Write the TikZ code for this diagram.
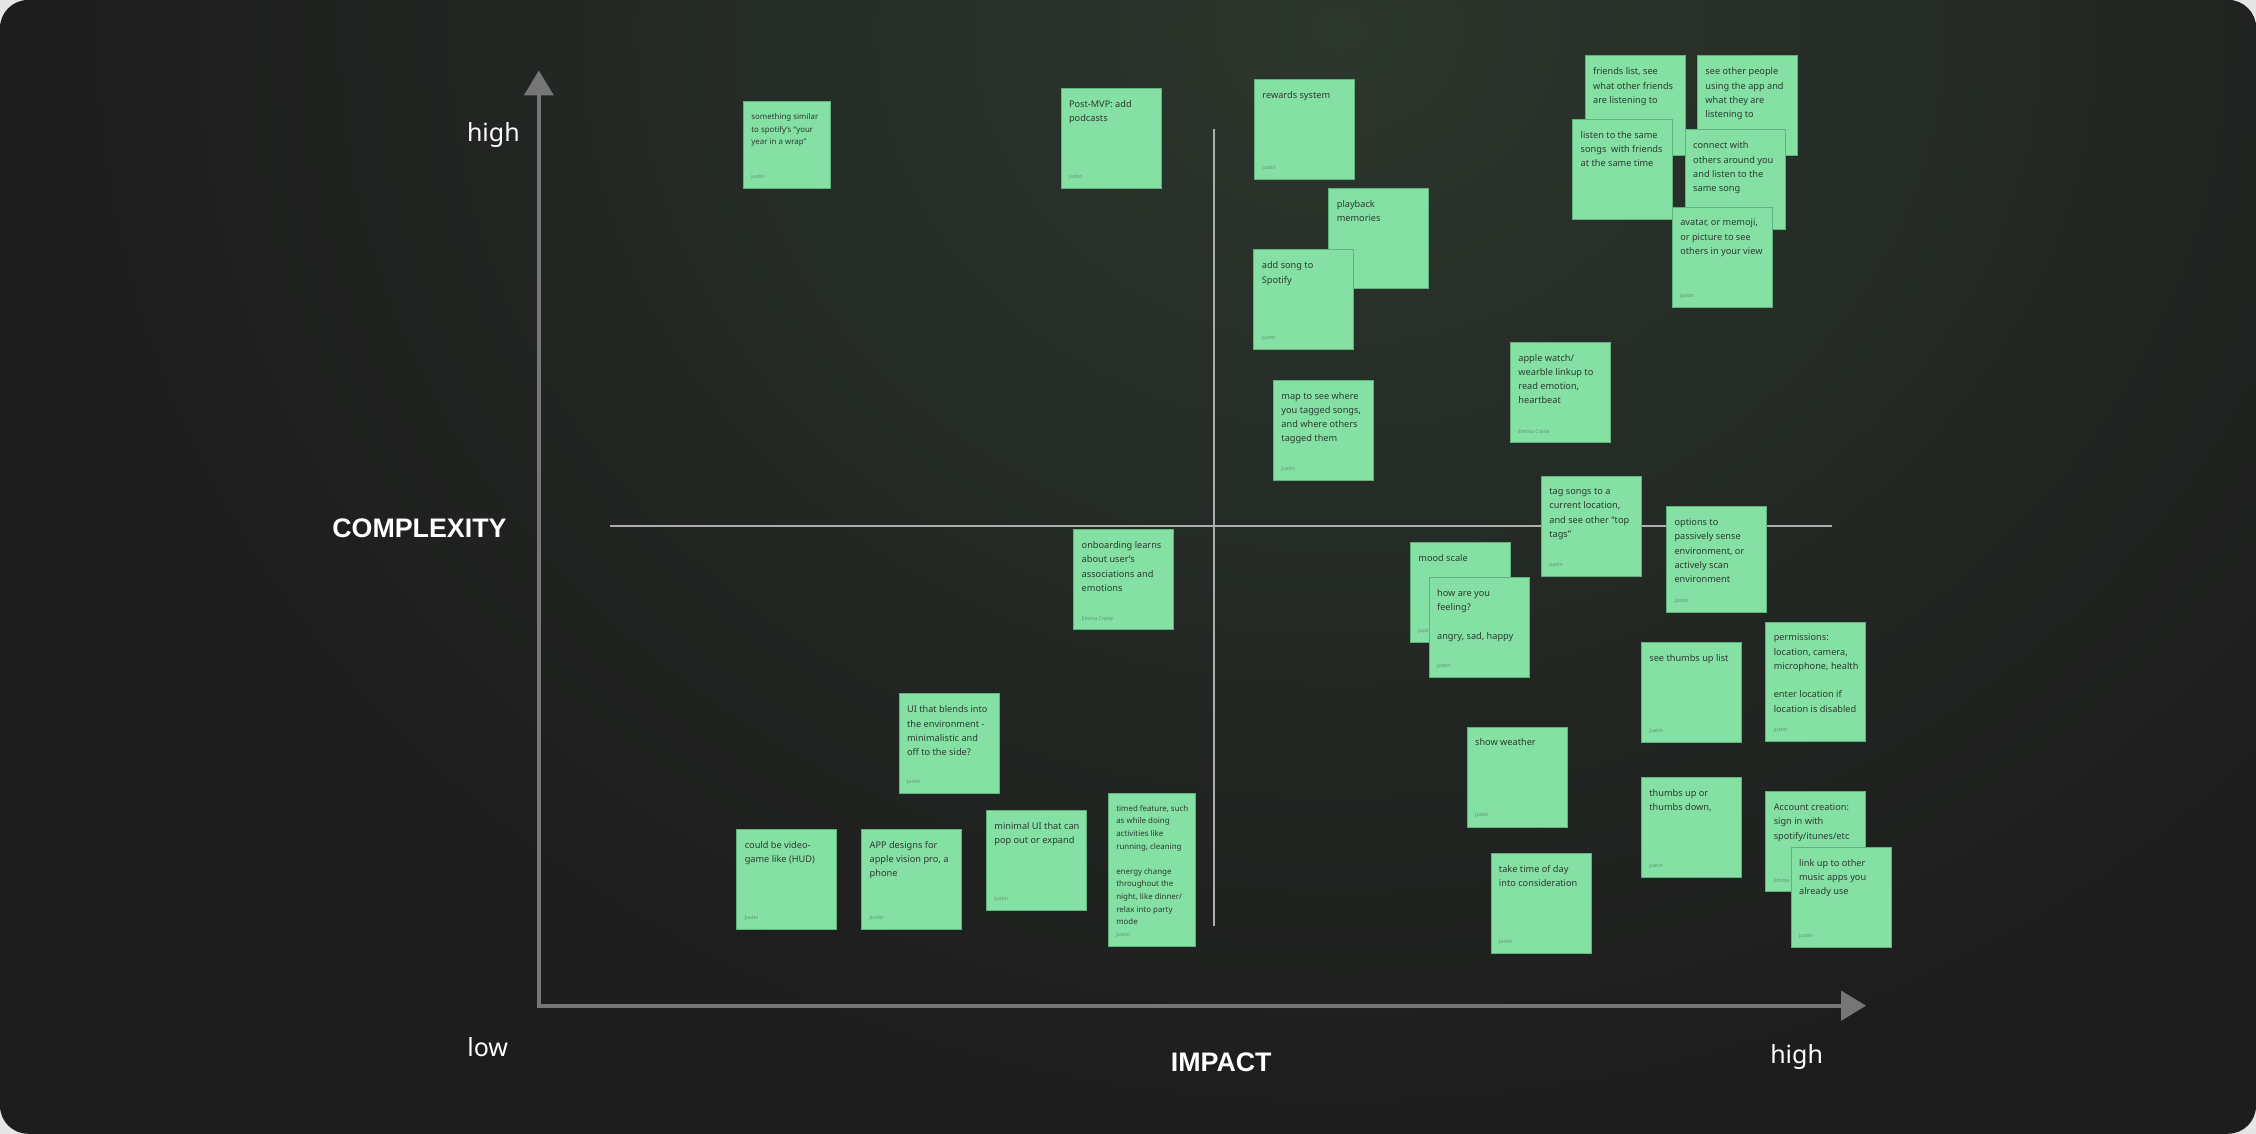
\documentclass[tikz,border=0pt]{standalone}
\usepackage{fontspec}
\setmainfont{Noto Sans}
\newfontfamily\titlefont{Liberation Sans}
\usetikzlibrary{arrows.meta, positioning}
\usepackage{xcolor}
\definecolor{stickygreen}{HTML}{85E0A3}
\definecolor{stickyedge}{HTML}{62B27F}
\definecolor{stickyink}{HTML}{2D3A31}
\definecolor{authorink}{HTML}{5E9470}
\definecolor{axisgray}{HTML}{767676}
\definecolor{quadgray}{HTML}{ADADAD}
\definecolor{bgdark}{HTML}{1D1D1D}
\definecolor{bggreen}{HTML}{2C372D}
\definecolor{framegray}{HTML}{E6E6E6}

% one display pixel of the board
\newcommand{\pxu}{0.7194pt}
% sticky note: [text style] name, x, y, width, height, text, author
\newcommand{\sticky}[8][notetext]{%
  \node[note, minimum width=#5*\pxu, minimum height=#6*\pxu] (#2) at (#3,#4) {};
  \node[#1] (#2-text) at ([xshift=4pt, yshift=-6pt]#2.north west) {#7};
  \node[author] (#2-author) at ([xshift=4pt, yshift=4.5pt]#2.south west) {#8};}

\begin{document}
\begin{tikzpicture}[x=0.7194pt, y=-0.7194pt,
  note/.style={rectangle, fill=stickygreen, draw=stickyedge, line width=0.4pt, inner sep=0pt, anchor=north west},
  notetext/.style={anchor=north west, inner sep=0pt, align=left, text=stickyink, font=\fontsize{4.6}{7.15}\selectfont},
  smalltext/.style={notetext, font=\fontsize{3.95}{6.3}\selectfont},
  author/.style={anchor=south west, inner sep=0pt, text=authorink, font=\fontsize{2.6}{3}\selectfont},
  axis/.style={draw=axisgray, line width=2.2pt, {Triangle[width=14.5pt, length=12.5pt]}-{Triangle[width=14.5pt, length=12.5pt]}},
  quadline/.style={draw=quadgray, line width=1pt},
  axislabel/.style={text=white, font=\fontsize{12.5}{15}\selectfont, inner sep=0pt},
  axistitle/.style={text=white, font=\titlefont\bfseries\fontsize{13.4}{15}\selectfont, inner sep=0pt}]

  % Board background
  \useasboundingbox (0,0) rectangle (1568,788);
  \fill[framegray] (0,0) rectangle (1568,788);
  \fill[bgdark, rounded corners=14pt] (0,0) rectangle (1568,788);
  \begin{scope}
    \clip[rounded corners=14pt] (0,0) rectangle (1568,788);
    \shade[inner color=bggreen, outer color=bgdark] (930,20) ellipse (880 and 760);
  \end{scope}

  % Axes
  \coordinate (ytip) at (374.5,49);
  \coordinate (origin) at (374.5,699);
  \coordinate (xtip) at (1297,699);
  \draw[axis] (ytip) -- (origin) -- (xtip);

  % Quadrant lines
  \coordinate (qtop) at (843.8,89.4);
  \coordinate (qbottom) at (843.8,643.4);
  \coordinate (qleft) at (424,365.5);
  \coordinate (qright) at (1273,365.5);
  \draw[quadline] (qleft) -- (qright);
  \draw[quadline] (qtop) -- (qbottom);

  % Axis labels
  \node[axislabel, anchor=east] (yhigh) at (361.5,93.7) {high};
  \node[axistitle] (complexity) at (291.5,367.5) {COMPLEXITY};
  \node[axislabel] (xlow) at (339,727.5) {low};
  \node[axistitle] (impact) at (848.8,738) {IMPACT};
  \node[axislabel] (xhigh) at (1248.7,734.5) {high};

  % Notes, upper left
  \sticky[smalltext]{yearwrap}{516.4}{70.2}{60.5}{60.3}{something similar\\to spotify’s “your\\year in a wrap”}{Justin}
  \sticky{podcasts}{737.2}{61.2}{69.5}{69.5}{Post-MVP: add\\podcasts}{Justin}

  % Notes, upper right
  \sticky{rewards}{871.6}{55}{69.5}{69.5}{rewards system}{Justin}
  \sticky{playback}{923.3}{130.7}{69.5}{69.5}{playback\\memories}{}
  \sticky{addsong}{871.2}{173.3}{69.5}{69.5}{add song to\\Spotify}{Justin}
  \sticky{map}{884.8}{263.9}{69.5}{69.5}{map to see where\\you tagged songs,\\and where others\\tagged them}{Justin}
  \sticky{friendslist}{1101.4}{38.5}{69.5}{69.5}{friends list, see\\what other friends\\are listening to}{}
  \sticky{otherpeople}{1179.5}{38.5}{69.5}{69.5}{see other people\\using the app and\\what they are\\listening to}{}
  \sticky{samesongs}{1092.8}{82.7}{69.5}{69.5}{listen to the same\\songs\ \ with friends\\at the same time}{}
  \sticky{connect}{1171}{89.9}{69.5}{69.5}{connect with\\others around you\\and listen to the\\same song}{}
  \sticky{avatar}{1162}{143.7}{69.5}{69.5}{avatar, or memoji,\\or picture to see\\others in your view}{Justin}
  \sticky{applewatch}{1049.5}{237.5}{69.5}{69.5}{apple watch/\\wearble linkup to\\read emotion,\\heartbeat}{Emma Crane}
  \sticky{tagsongs}{1071}{331}{69.5}{69.5}{tag songs to a\\current location,\\and see other “top\\tags”}{Justin}

  % Notes, lower left
  \sticky{onboarding}{746}{367.7}{69.5}{69.5}{onboarding learns\\about user’s\\associations and\\emotions}{Emma Crane}
  \sticky{blends}{624.6}{482}{69.5}{69.5}{UI that blends into\\the environment -\\minimalistic and\\off to the side?}{Justin}
  \sticky{hud}{511.8}{576}{69.5}{69.5}{could be video-\\game like (HUD)}{Justin}
  \sticky{visionpro}{598.6}{576}{69.5}{69.5}{APP designs for\\apple vision pro, a\\phone}{Justin}
  \sticky{minimalui}{685.3}{563}{69.5}{69.5}{minimal UI that can\\pop out or expand}{Justin}
  \sticky[smalltext]{timed}{770}{551}{60.5}{106.8}{timed feature, such\\as while doing\\activities like\\running, cleaning\\[6.3pt]energy change\\throughout the\\night, like dinner/\\relax into party\\mode}{Justin}

  % Notes, lower right
  \sticky{sense}{1158}{352}{69.5}{73.4}{options to\\passively sense\\environment, or\\actively scan\\environment}{Justin}
  \sticky{mood}{980}{376.5}{69.5}{69.5}{mood scale}{Justin}
  \sticky{feeling}{993}{401}{69.5}{69.5}{how are you\\feeling?\\[7.15pt]angry, sad, happy}{Justin}
  \sticky{thumbslist}{1140.5}{446}{69.5}{69.5}{see thumbs up list}{Justin}
  \sticky{permissions}{1227}{432}{69.5}{83}{permissions:\\location, camera,\\microphone, health\\[7.15pt]enter location if\\location is disabled}{Justin}
  \sticky{weather}{1019.4}{505}{69.5}{69.5}{show weather}{Justin}
  \sticky{thumbsupdown}{1140.5}{540}{69.5}{69.5}{thumbs up or\\thumbs down,}{Justin}
  \sticky{account}{1227}{550}{69.5}{69.5}{Account creation:\\sign in with\\spotify/itunes/etc}{Emma Crane}
  \sticky{linkup}{1244.6}{588.5}{69.5}{69.5}{link up to other\\music apps you\\already use}{Justin}
  \sticky{timeofday}{1036}{593}{69.5}{69.5}{take time of day\\into consideration}{Justin}
\end{tikzpicture}
\end{document}
